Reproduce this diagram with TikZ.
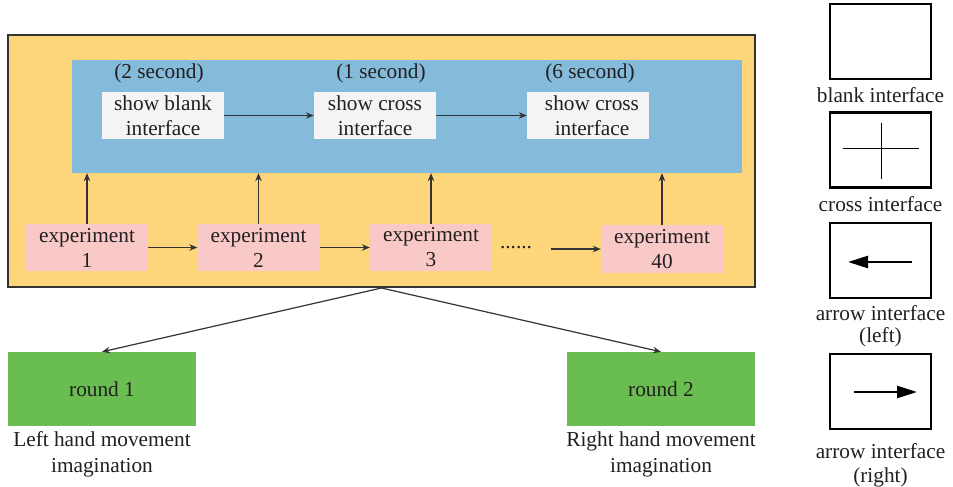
\documentclass[tikz,border=0pt]{standalone}
\usepackage{fontspec}
\setmainfont{Liberation Serif}
\usetikzlibrary{arrows.meta}
\definecolor{orangebg}{HTML}{FDD57B}
\definecolor{bluebg}{HTML}{85BBDA}
\definecolor{whitebox}{HTML}{F4F4F4}
\definecolor{pinkbox}{HTML}{F9C9C8}
\definecolor{greenbox}{HTML}{6ABD51}
\definecolor{txt}{HTML}{231F20}
\definecolor{linec}{HTML}{333333}
\tikzset{
  base/.style={inner sep=0pt, align=center, text=txt},
  wbox/.style={base, fill=whitebox, minimum width=122pt, minimum height=47pt},
  pbox/.style={base, fill=pinkbox, minimum width=122pt, minimum height=47pt},
  gbox/.style={base, fill=greenbox, minimum width=188pt, minimum height=74pt},
  ibox/.style={base, draw=black, line width=2.5pt, minimum width=101pt, minimum height=75pt},
  lbl/.style={base, font=\fontsize{21.3}{24}\selectfont},
  conn/.style={draw=linec, line width=1.2pt, -{Stealth[length=8pt,width=6.5pt]}},
  bigarrow/.style={draw=black, line width=2.5pt, -{Triangle[length=20pt,width=12pt]}},
}
\begin{document}
\begin{tikzpicture}[x=1pt,y=-1pt, font=\fontsize{21.3}{25}\selectfont]
\useasboundingbox (0,0) rectangle (953,487);
% main frame
\node[base, draw=linec, line width=2pt, fill=orangebg, minimum width=747pt, minimum height=252pt] (outer) at (381.5,161) {};
\node[base, fill=bluebg, minimum width=670pt, minimum height=113pt] (blue) at (407,116.5) {};
% durations
\node[base] (t1) at (159,73) {(2 second)};
\node[base] (t2) at (381,73) {(1 second)};
\node[base] (t3) at (590,73) {(6 second)};
% interface steps
\node[wbox] (s1) at (163,115.5) {show blank\\interface};
\node[wbox] (s2) at (375,115.5) {show cross\\interface};
\node[wbox] (s3) at (588,115.5) {\hspace*{8pt}show cross\\\hspace*{8pt}interface};
\draw[conn] (s1) -- (s2);
\draw[conn] (s2) -- (s3);
% experiments
\node[pbox] (e1) at (87,247.5) {experiment\\1};
\node[pbox] (e2) at (258.5,247.5) {experiment\\2};
\node[pbox] (e3) at (431,247.5) {experiment\\3};
\node[pbox, minimum height=48pt] (e40) at (662,249) {experiment\\40};
\node[base] (dots) at (516,248) {......};
\coordinate (d40) at (551,249);
\draw[conn] (e1) -- (e2);
\draw[conn] (e2) -- (e3);
\draw[conn] (d40) -- (e40.west);
\draw[conn] (e1.north) -- (e1.north |- blue.south);
\draw[conn] (e2.north) -- (e2.north |- blue.south);
\draw[conn] (e3.north) -- (e3.north |- blue.south);
\draw[conn] (e40.north) -- (e40.north |- blue.south);
% rounds
\node[gbox] (r1) at (102,389) {round 1};
\node[gbox] (r2) at (661,389) {round 2};
\draw[conn] (outer.south) -- (r1.north);
\draw[conn] (outer.south) -- (r2.north);
\node[base, font=\fontsize{21.3}{26}\selectfont] (l1) at (102,454) {Left hand movement\\imagination};
\node[base, font=\fontsize{21.3}{26}\selectfont] (l2) at (661,454) {Right hand movement\\imagination};
% legend
\node[ibox] (b1) at (880.5,41.5) {};
\node[lbl] (bl1) at (880.5,95) {blank interface};
\node[ibox] (b2) at (880.5,150) {};
\draw[black, line width=1pt] (843,148) -- (919,148);
\draw[black, line width=1pt] (881,123) -- (881,179);
\node[lbl] (bl2) at (880.5,204) {cross interface};
\node[ibox] (b3) at (880.5,260.5) {};
\draw[bigarrow] (912,262) -- (848,262);
\node[lbl, font=\fontsize{21.3}{22}\selectfont] (bl3) at (880.5,326) {arrow interface\\(left)};
\node[ibox] (b4) at (880.5,391.5) {};
\draw[bigarrow] (854,392) -- (917,392);
\node[lbl, font=\fontsize{21.3}{24}\selectfont] (bl4) at (880.5,465) {arrow interface\\(right)};
\end{tikzpicture}
\end{document}
